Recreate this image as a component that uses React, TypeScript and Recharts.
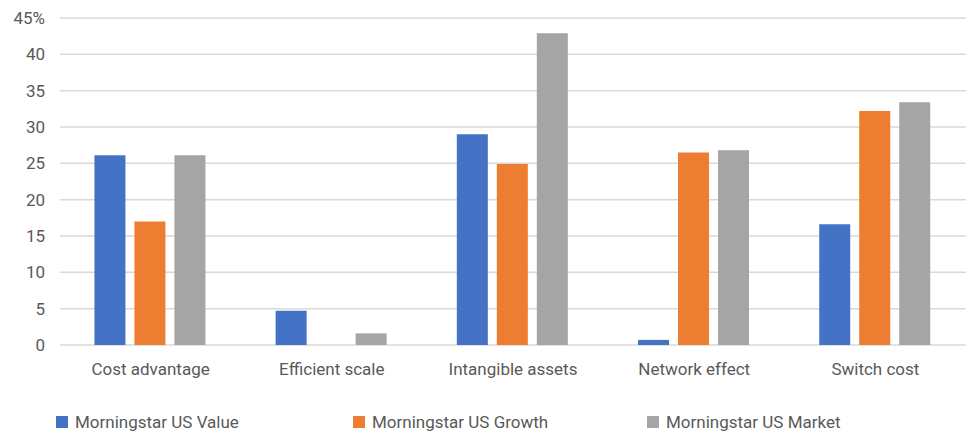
import { BarChart, Bar, XAxis, YAxis, CartesianGrid, Legend } from 'recharts';

const categories = ['Cost advantage', 'Efficient scale', 'Intangible assets', 'Network effect', 'Switch cost'];
const usValue = [26.1, 4.7, 29.0, 0.7, 16.6];
const usGrowth = [17.0, 0, 24.9, 26.5, 32.2];
const usMarket = [26.1, 1.6, 42.9, 26.8, 33.4];
const yTicks = [0, 5, 10, 15, 20, 25, 30, 35, 40, 45];

const series = [
  { key: 'value', name: 'Morningstar US Value', color: '#4472C4' },
  { key: 'growth', name: 'Morningstar US Growth', color: '#ED7D31' },
  { key: 'market', name: 'Morningstar US Market', color: '#A5A5A5' },
];

const data = categories.map((name, i) => ({
  name,
  value: usValue[i],
  growth: usGrowth[i],
  market: usMarket[i],
}));

const FONT = 'Roboto, "Noto Sans", sans-serif';
const legendLeft = [56, 353, 647];

function renderLegend() {
  return (
    <div style={{ position: 'relative', width: 971, height: 40, fontFamily: FONT, fontSize: 17, color: '#595959' }}>
      {series.map((s, i) => (
        <div
          key={s.key}
          style={{ position: 'absolute', left: legendLeft[i], top: 14, display: 'flex', alignItems: 'center', whiteSpace: 'nowrap' }}
        >
          <span style={{ display: 'inline-block', width: 12, height: 12, background: s.color, marginRight: 7 }} />
          <span>{s.name}</span>
        </div>
      ))}
    </div>
  );
}

export default function App() {
  return (
    <div style={{ width: 971, height: 438, background: '#fff' }}>
      <style>{'body{margin:0}'}</style>
      <BarChart
        width={971}
        height={438}
        data={data}
        margin={{ top: 18, right: 5, left: 0, bottom: 0 }}
        barCategoryGap="19%"
        barGap={9}
      >
        <CartesianGrid vertical={false} stroke="#d9d9d9" strokeWidth={1.5} />
        <XAxis
          dataKey="name"
          axisLine={false}
          tickLine={false}
          tickSize={0}
          tickMargin={18}
          height={53}
          interval={0}
          tick={{ fill: '#595959', fontSize: 17, fontFamily: FONT }}
        />
        <YAxis
          domain={[0, 45]}
          ticks={yTicks}
          axisLine={false}
          tickLine={false}
          tickSize={0}
          tickMargin={15}
          width={60}
          tickFormatter={(v: number) => (v === 45 ? '45%' : String(v))}
          tick={{ fill: '#595959', fontSize: 17, fontFamily: FONT }}
        />
        <Legend verticalAlign="bottom" height={40} content={renderLegend} />
        {series.map((s) => (
          <Bar key={s.key} dataKey={s.key} name={s.name} fill={s.color} isAnimationActive={false} />
        ))}
      </BarChart>
    </div>
  );
}
